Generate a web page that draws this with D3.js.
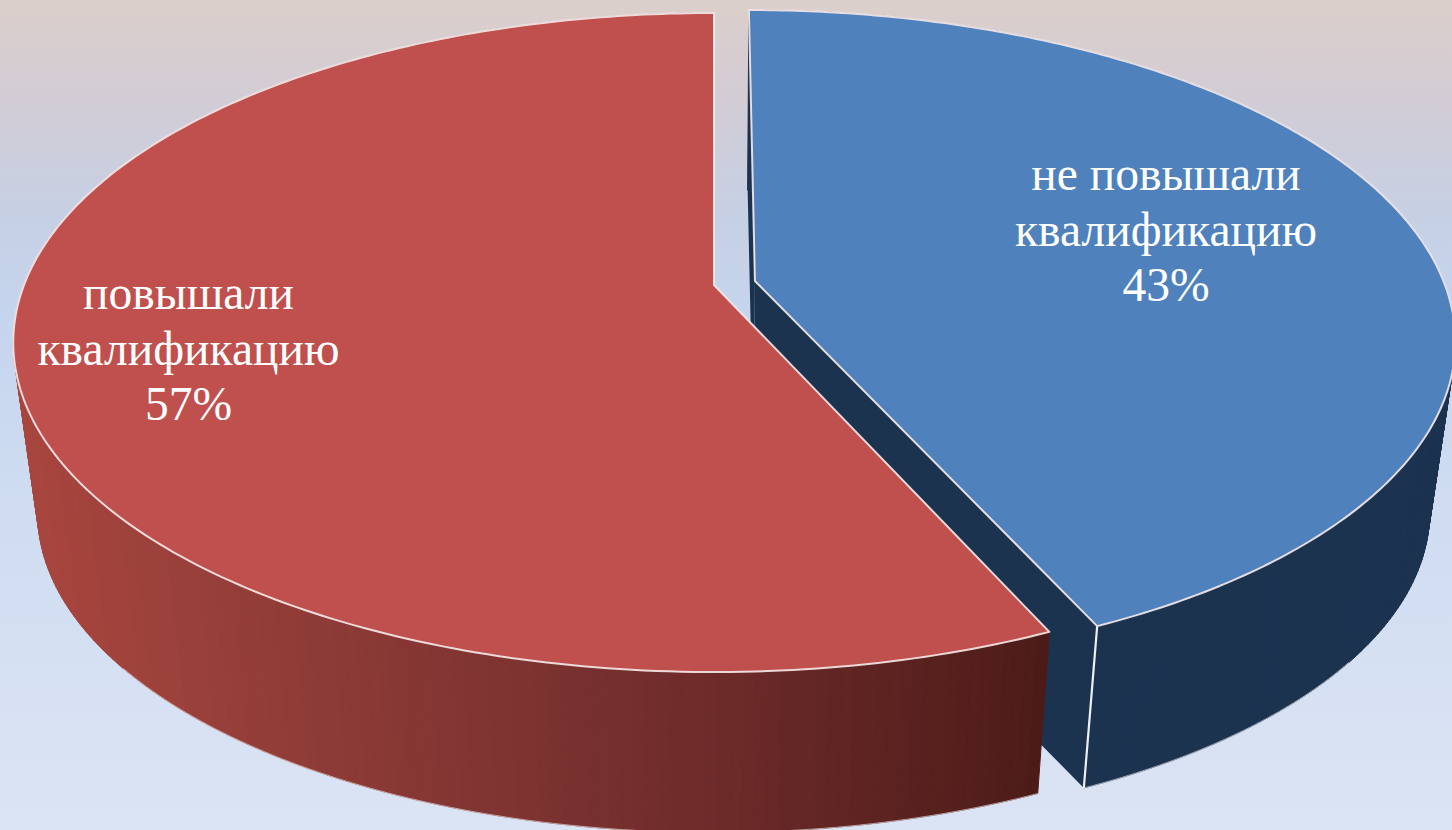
<!DOCTYPE html>
<html><head><meta charset="utf-8">
<style>html,body{margin:0;padding:0;background:#d8e3f4;overflow:hidden}svg{display:block}</style>
<script src="https://cdn.jsdelivr.net/npm/d3@7/dist/d3.min.js"></script></head>
<body><svg id="c" width="1452" height="830"></svg>
<script>
// ---- data
const categories = ["не повышали квалификацию", "повышали квалификацию"];
const sliceShares = [43.3, 56.7];
const labelLines = [["не повышали", "квалификацию"], ["повышали", "квалификацию"]];
const explode = [0.0608, 0];
const topFaceColors = ["#4f81bd", "#c0504d"];

// ---- projection: a perspective view of the pie disc
const W = 1452, H = 830, persp = -0.1745;
const discTop = {cx: 714, cy: 285, b: 690, a: 319.5};
const discBottom = {cx: 714, cy: 457, b: 666, a: 310};
function project(disc, u, v) {
  const s = 1 + persp * v;
  const sx = d3.scaleLinear().domain([-1, 1]).range([disc.cx - disc.b, disc.cx + disc.b]);
  const sy = d3.scaleLinear().domain([-1, 1]).range([disc.cy - disc.a, disc.cy + disc.a]);
  return [sx(u / s), sy(v / s)];
}
const pie = d3.pie().sort(null).value(d => d)(sliceShares);
const svg = d3.select("#c");
const defs = svg.append("defs");
const bg = defs.append("linearGradient").attr("id", "bg").attr("x1", 0).attr("y1", 0).attr("x2", 0).attr("y2", 1);
[[0, "#dccfcb"], [0.12, "#d2ccd5"], [0.26, "#c6d0e4"], [0.38, "#c5d5ee"], [0.6, "#cfdcf1"], [1, "#dbe4f4"]]
  .forEach(s => bg.append("stop").attr("offset", s[0]).attr("stop-color", s[1]));
svg.append("rect").attr("width", W).attr("height", H).attr("fill", "url(#bg)");

const line = d3.line();
const rim = "#f6eaea";
const redWall = d3.scaleLinear().domain([20, 300, 700, 1040]).range(["#a8463f", "#8f3c37", "#6f2c2b", "#4e1c19"]);
const bandWidth = [4000, 16];
const wallColor = [() => "#1c3350", x => redWall(x)];

function sliceGeom(d, i) {
  const mid = (d.startAngle + d.endAngle) / 2;
  const du = explode[i] * Math.sin(mid), dv = -explode[i] * Math.cos(mid);
  const P = (disc, t, r) => project(disc, du + r * Math.sin(t), dv - r * Math.cos(t));
  const angles = d3.range(0, 241).map(k => d.startAngle + (d.endAngle - d.startAngle) * k / 240);
  return {P, angles, d};
}
const geoms = pie.map(sliceGeom);
// all strips wound the same way, so overlapping ones never cancel when merged
const wound = q => d3.polygonArea(q) < 0 ? q.slice().reverse() : q;

geoms.forEach((g, i) => {
  const layer = svg.append("g").attr("class", "slice");
  const {P, angles, d} = g;
  // straight inner walls
  (i === 0 ? [d.startAngle, d.endAngle] : []).forEach(t => {
    layer.append("path")
      .attr("d", line([P(discTop, t, 0), P(discTop, t, 1), P(discBottom, t, 1), P(discBottom, t, 0)]) + "Z")
      .attr("fill", "#1c3350");
  });
  // outer curved wall: strips merged into vertical colour bands
  const strips = d3.pairs(angles).map(([a, b]) => [P(discTop, a, 1), P(discTop, b, 1), P(discBottom, b, 1), P(discBottom, a, 1)]);
  const bands = d3.groups(strips, q => Math.round(q[0][0] / bandWidth[i])).sort((a, b) => a[0] - b[0]);
  layer.selectAll("path.wall").data(bands).join("path").attr("class", "wall")
    .attr("d", b => b[1].map(q => line(wound(q)) + "Z").join(""))
    .attr("fill", b => wallColor[i](b[0] * bandWidth[i]))
    .attr("stroke", b => wallColor[i](b[0] * bandWidth[i])).attr("stroke-width", 1);
  // near end edge of the wall
  const endT = d.endAngle;
  layer.append("path").attr("d", line([P(discTop, endT, 1), P(discBottom, endT, 1)]))
    .attr("stroke", "#eef0f6").attr("stroke-width", 2.2).attr("fill", "none");
  // faint light lower rim
  const bottomNear = angles.filter(t => -Math.cos(t) > 0.6);
  layer.append("path").attr("d", line(bottomNear.map(t => P(discBottom, t, 1))))
    .attr("stroke", "#f2eef2").attr("stroke-width", 1).attr("fill", "none").attr("opacity", 0.6);
  // top face
  const pts = [P(discTop, 0, 0)].concat(angles.map(t => P(discTop, t, 1)));
  layer.append("path").attr("d", line(pts) + "Z").attr("fill", topFaceColors[i])
    .attr("stroke", rim).attr("stroke-width", 2).attr("stroke-opacity", 0.9).attr("stroke-linejoin", "round");
});

// labels
const labelCenterX = [1166, 188.5], labelBaseY = [190, 309], leading = 55.5;
labelLines.forEach((lines, i) => {
  const t = svg.append("text").attr("text-anchor", "middle").attr("fill", "#fff")
    .attr("font-family", "'Liberation Serif', serif").attr("font-size", 47.6);
  lines.concat([d3.format(".0f")(sliceShares[i]) + "%"]).forEach((s, k) => {
    t.append("tspan").attr("x", labelCenterX[i]).attr("y", labelBaseY[i] + k * leading).text(s);
  });
});
</script></body></html>
